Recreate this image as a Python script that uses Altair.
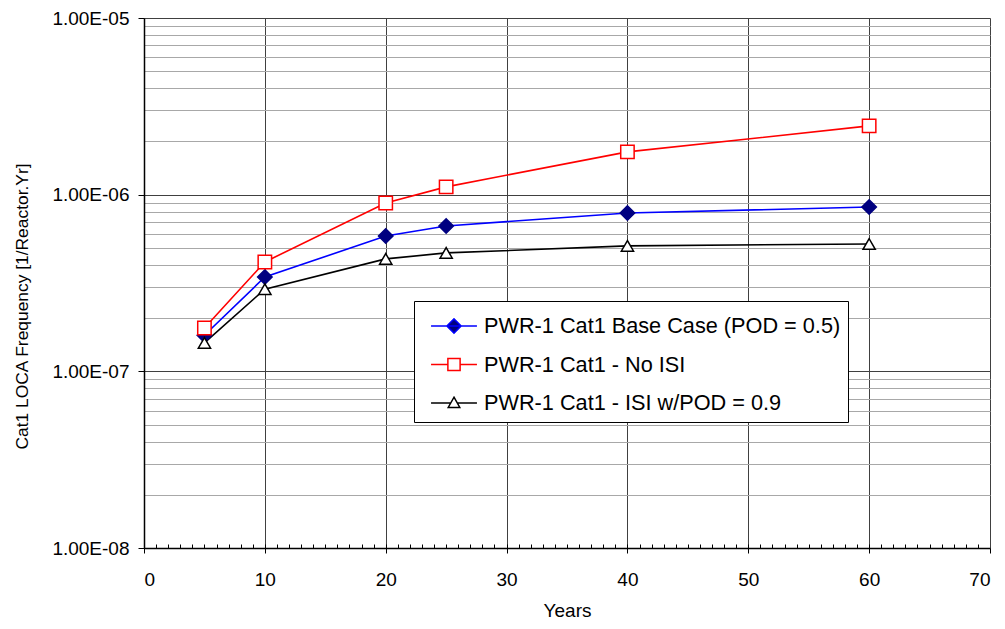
import altair as alt
import pandas as pd

# ---- data ----
years = [5, 10, 20, 25, 40, 60]
base_case = [1.60e-7, 3.42e-7, 5.83e-7, 6.65e-7, 7.87e-7, 8.51e-7]
no_isi = [1.76e-7, 4.16e-7, 8.97e-7, 1.107e-6, 1.746e-6, 2.45e-6]
isi_pod09 = [1.45e-7, 2.92e-7, 4.33e-7, 4.68e-7, 5.13e-7, 5.26e-7]

series_names = [
    "PWR-1 Cat1 Base Case (POD = 0.5)",
    "PWR-1 Cat1 - No ISI",
    "PWR-1 Cat1 - ISI w/POD = 0.9",
]

x_ticks = [0, 10, 20, 30, 40, 50, 60, 70]
x_minor = list(range(1, 70))
y_ticks = [1e-8, 1e-7, 1e-6, 1e-5]
y_minor = [k * d for d in [1e-8, 1e-7, 1e-6] for k in range(2, 10)]

rows = []
for name, vals in zip(series_names, [base_case, no_isi, isi_pod09]):
    for x, v in zip(years, vals):
        rows.append({"Years": x, "Freq": v, "Series": name})
df = pd.DataFrame(rows)

# ---- styles ----
FONT = "Liberation Sans"
line_colors = ["#0000ff", "#ff0000", "#000000"]
line_widths = [1.6, 1.6, 1.0]
marker_fill = ["#000080", "#ffffff", "#ffffff"]
marker_stroke = ["#000080", "#ff0000", "#000000"]
marker_shapes = ["diamond", "square", "triangle-up"]
marker_sizes = [210, 150, 110]
legend_stroke = ["#0000ff", "#ff0000", "#000000"]
legend_paths = [
    "M-1.35,0L1.35,0M-0.42,0L0,-0.42L0.42,0L0,0.42Z",
    "M-1.35,0L-0.36,0M0.36,0L1.35,0M-0.36,-0.36L0.36,-0.36L0.36,0.36L-0.36,0.36Z",
    "M-1.35,0L-0.2,0M0.2,0L1.35,0M0,-0.34L0.34,0.26L-0.34,0.26Z",
]

W, H = 846, 530

xscale = alt.Scale(domain=[0, 70], nice=False, zero=False)
yscale = alt.Scale(type="log", domain=[1e-8, 1e-5], nice=False)

x_major_axis = alt.Axis(
    values=x_ticks, grid=True, gridColor="#404040", gridWidth=1,
    domainColor="black", domainWidth=1.5, tickColor="black", tickSize=5,
    labelPadding=17, labelFontSize=19, labelColor="black", labelFont=FONT,
    title="Years", titleFontSize=19, titleFontWeight="normal", titleFont=FONT,
    titleColor="black", titleY=62, titleBaseline="middle",
)
y_major_axis = alt.Axis(
    values=y_ticks, grid=True, gridColor="#404040", gridWidth=1,
    domainColor="black", domainWidth=1.5, tickColor="black", tickSize=6,
    labelPadding=9, labelFontSize=19, labelColor="black", labelFont=FONT,
    labelExpr="'1.00E-0' + round(-log(datum.value) / LN10)",
    title="Cat1 LOCA Frequency [1/Reactor.Yr]", titleFontSize=17.4,
    titleFontWeight="normal", titleFont=FONT, titleColor="black",
    titleX=-122, titleY=288, titleAngle=270, titleAlign="center",
    titleBaseline="middle",
)
x_minor_axis = alt.Axis(
    orient="top", offset=-H, values=x_minor, grid=False, labels=False,
    domain=False, ticks=True, tickSize=4, tickColor="black", title=None,
)
y_minor_axis = alt.Axis(
    orient="left", values=y_minor, grid=True, gridColor="#a8a8a8",
    gridWidth=1, labels=False, ticks=False, domain=False, title=None,
)

lines = alt.Chart(df).mark_line().encode(
    x=alt.X("Years:Q", scale=xscale, axis=x_major_axis),
    y=alt.Y("Freq:Q", scale=yscale, axis=y_major_axis),
    color=alt.Color("Series:N", scale=alt.Scale(domain=series_names, range=line_colors), legend=None),
    strokeWidth=alt.StrokeWidth("Series:N", scale=alt.Scale(domain=series_names, range=line_widths), legend=None),
)

points = alt.Chart(df).mark_point(opacity=1, strokeWidth=1.5).encode(
    x=alt.X("Years:Q", scale=xscale, axis=x_minor_axis),
    y=alt.Y("Freq:Q", scale=yscale, axis=y_minor_axis),
    shape=alt.Shape("Series:N", scale=alt.Scale(domain=series_names, range=marker_shapes), legend=None),
    fill=alt.Fill("Series:N", scale=alt.Scale(domain=series_names, range=marker_fill), legend=None),
    stroke=alt.Stroke("Series:N", scale=alt.Scale(domain=series_names, range=marker_stroke), legend=None),
    size=alt.Size("Series:N", scale=alt.Scale(domain=series_names, range=marker_sizes), legend=None),
)

leg = alt.Legend(
    title=None, orient="none", legendX=270, legendY=283,
    fillColor="white", strokeColor="black", padding=7,
    labelFont=FONT, labelFontSize=21.7, labelColor="black", labelOffset=12,
    symbolSize=1156, symbolStrokeWidth=1.5, symbolOffset=15, rowPadding=8.5,
    labelLimit=500,
)

legend_layer = alt.Chart(df).transform_filter("false").mark_point(opacity=1).encode(
    shape=alt.Shape("Series:N", scale=alt.Scale(domain=series_names, range=legend_paths), legend=leg),
    fill=alt.Fill("Series:N", scale=alt.Scale(domain=series_names, range=marker_fill), legend=leg),
    stroke=alt.Stroke("Series:N", scale=alt.Scale(domain=series_names, range=legend_stroke), legend=leg),
)

chart = (
    alt.layer(lines, points, legend_layer)
    .resolve_axis(x="independent", y="independent")
    .resolve_scale(shape="independent", fill="independent", stroke="independent", size="independent")
    .properties(
        width=W, height=H,
        autosize=alt.AutoSizeParams(type="none"),
        padding={"left": 136, "top": 10, "right": 7, "bottom": 73},
        background="white",
    )
    .configure_view(stroke="black", strokeWidth=1.5)
    .configure(font=FONT)
)

chart.save("out.html", embed_options={"renderer": "svg", "actions": False})
